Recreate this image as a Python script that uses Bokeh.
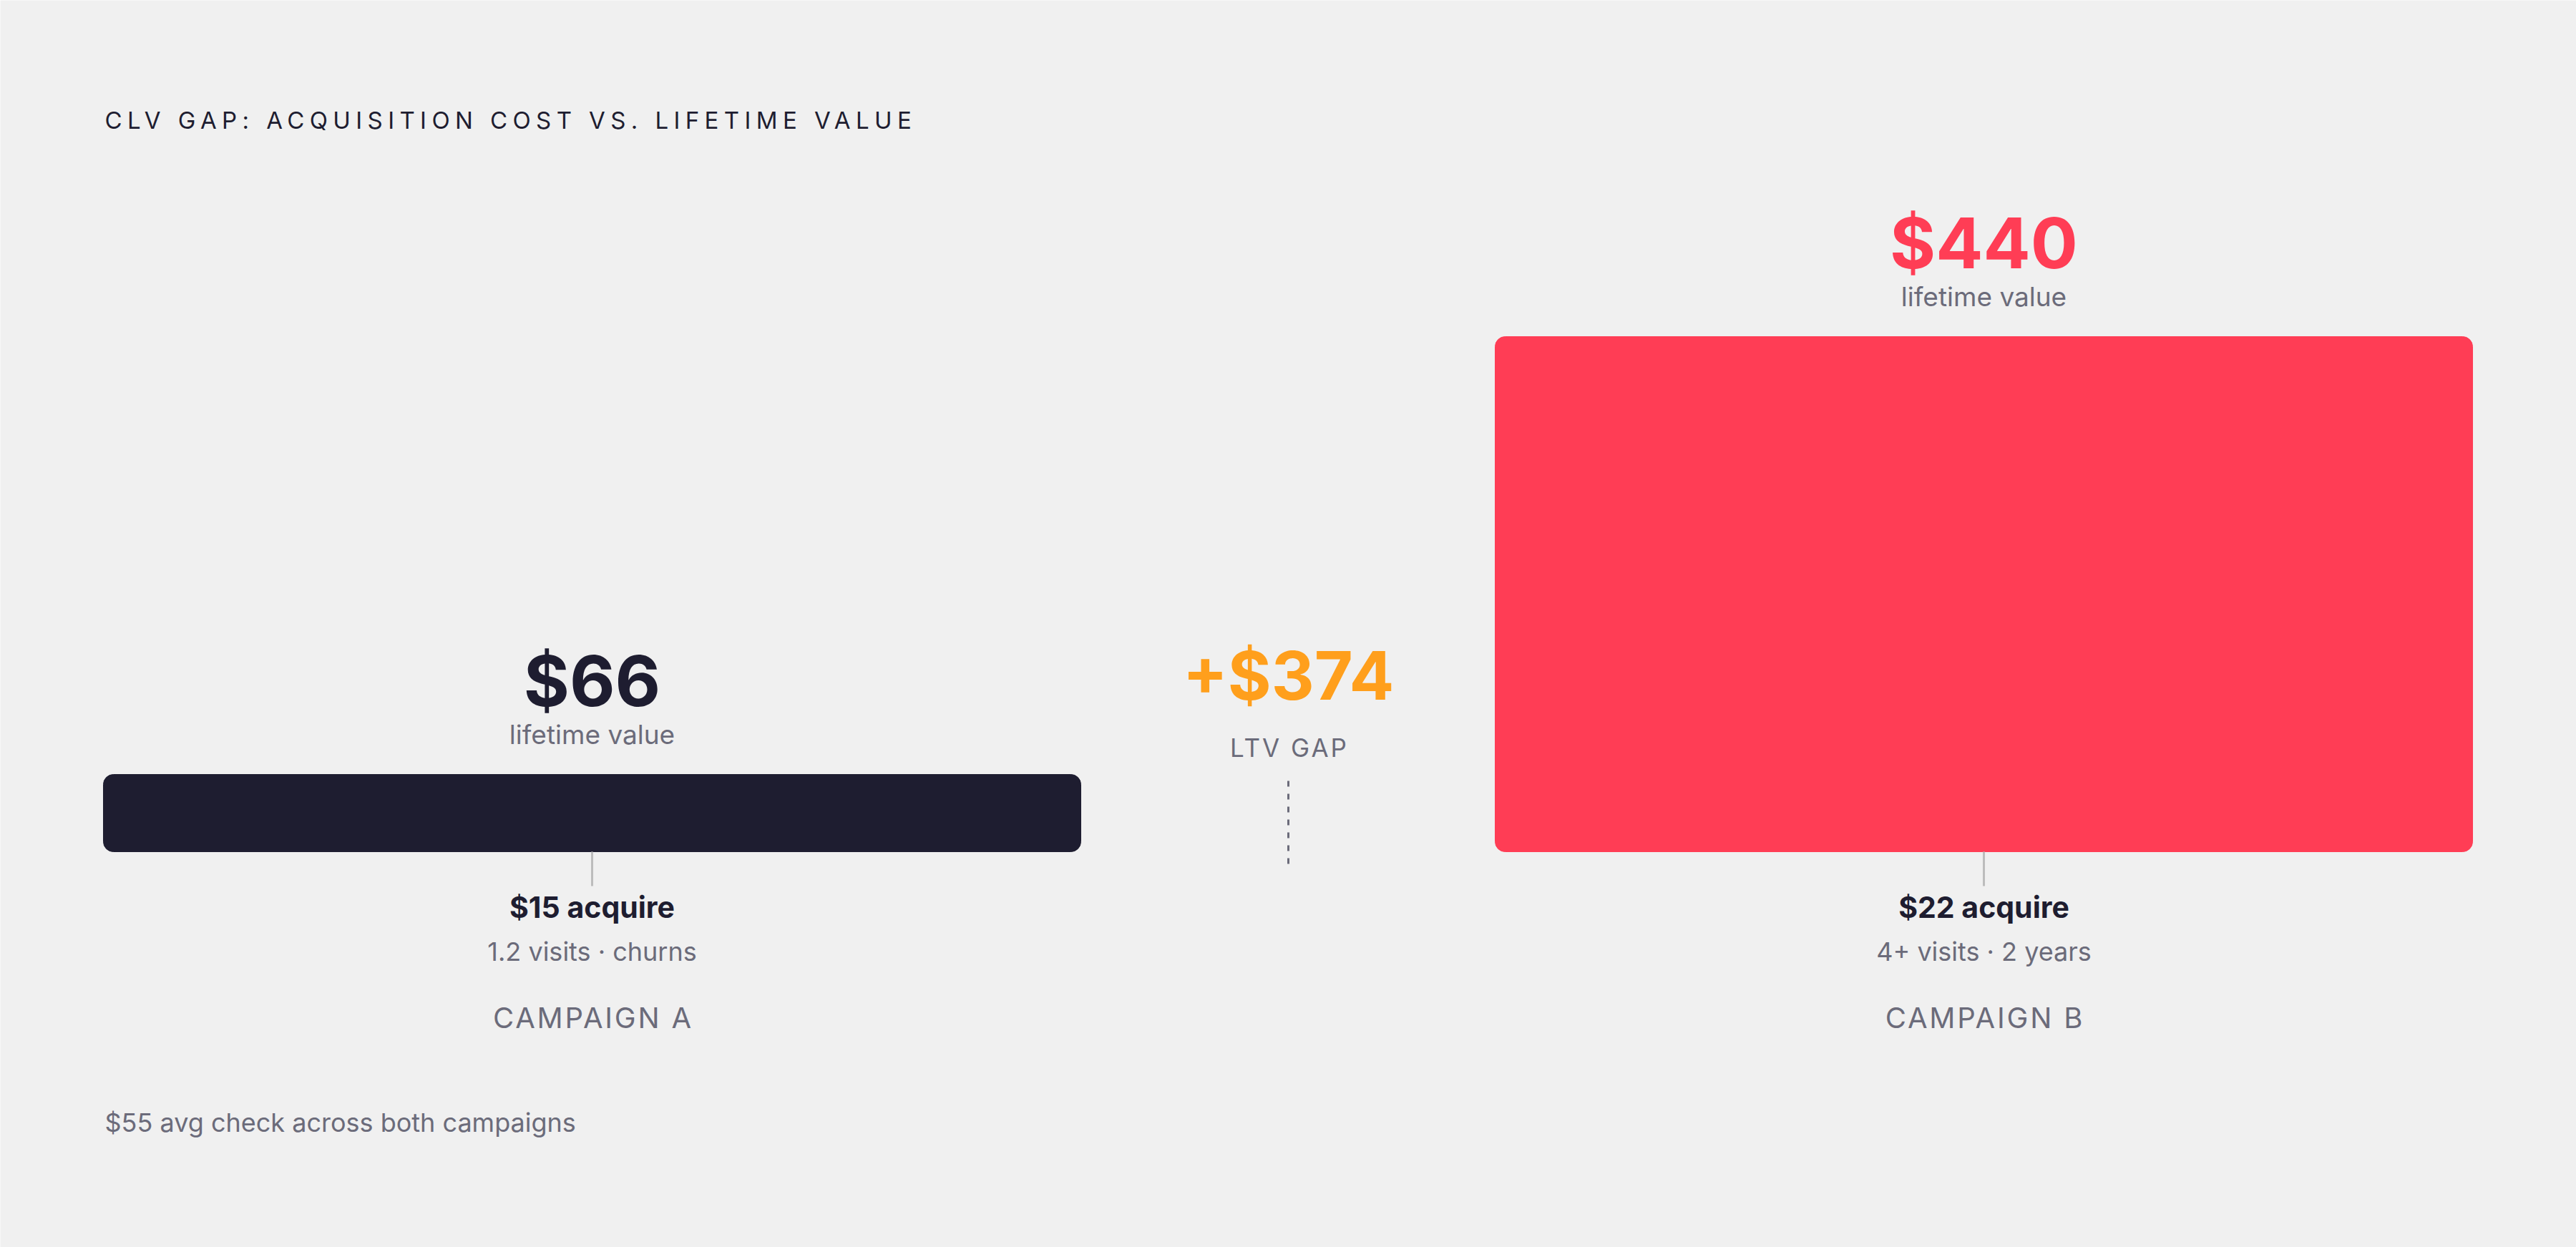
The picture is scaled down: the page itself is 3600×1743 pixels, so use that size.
from bokeh.plotting import figure
from bokeh.models import Range1d, Label, ColumnDataSource, CustomJS
from bokeh.document import Document
from bokeh.core.properties import value
from bokeh.embed import file_html
from bokeh.resources import INLINE

# data
campaigns = ["CAMPAIGN A", "CAMPAIGN B"]
ltv = [66, 440]
acquire_cost = [15, 22]
details = ["1.2 visits · churns", "4+ visits · 2 years"]
avg_check = 55

title_text = "CLV GAP: ACQUISITION COST VS. LIFETIME VALUE"
gap = ltv[1] - ltv[0]

# layout
W, H = 3600, 1743
PX_PER_USD = 720 / 440      # bar height scale
BASE_PX = 553               # baseline, px above bottom edge
bar_x = [827, 2772]
bar_width = 1366
gap_x = 1800

NAVY = "#1e1d30"
RED = "#ff3d55"
ORANGE = "#ff9f1c"
GREY = "#6b6b7a"
BG = "#f0f0f0"
FONT = "Inter"


def px(d):
    return d / PX_PER_USD


p = figure(width=W, height=H, output_backend="svg", toolbar_location=None,
           x_range=Range1d(0, W),
           y_range=Range1d(-px(BASE_PX), px(H - BASE_PX)),
           x_axis_location=None, y_axis_location=None, min_border=0)
p.grid.visible = False
p.outline_line_color = None
p.background_fill_color = BG
p.border_fill_color = BG

src = ColumnDataSource(dict(
    x=bar_x,
    ltv=ltv,
    color=[NAVY, RED],
    ltv_label=[f"${v}" for v in ltv],
    acq_label=[f"${v} acquire" for v in acquire_cost],
    details=details,
    name=campaigns,
    zero=[0, 0],
    tick_end=[-px(48)] * 2,
))

# bars
p.vbar(x="x", top="ltv", bottom=0, width=bar_width, color="color",
       border_radius=14, source=src)

# little ticks under the bars
p.segment(x0="x", y0="zero", x1="x", y1="tick_end", line_color="#bcbcbc",
          line_width=3, source=src)

# value labels above bars
p.text(x="x", y="ltv", text="ltv_label", text_color="color", source=src,
       text_font=value(FONT), text_font_size="98px", text_font_style="bold",
       text_align="center", text_baseline="middle", y_offset=-131)
p.text(x="x", y="ltv", text=value("lifetime value"), text_color=GREY, source=src,
       text_font=value(FONT), text_font_size="37px",
       text_align="center", text_baseline="middle", y_offset=-56)

# labels below bars
p.text(x="x", y="zero", text="acq_label", text_color=NAVY, source=src,
       text_font=value(FONT), text_font_size="41px", text_font_style="bold",
       text_align="center", text_baseline="middle", y_offset=77)
p.text(x="x", y="zero", text="details", text_color=GREY, source=src,
       text_font=value(FONT), text_font_size="36px",
       text_align="center", text_baseline="middle", y_offset=139)
p.text(x="x", y="zero", text="name", text_color=GREY, source=src,
       text_font=value(FONT), text_font_size="40px",
       text_align="center", text_baseline="middle", y_offset=232)

# gap annotation in the middle
p.text(x=[gap_x], y=[0], text=[f"+${gap}"], text_color=ORANGE,
       text_font=value(FONT), text_font_size="93px", text_font_style="bold",
       text_align="center", text_baseline="middle", y_offset=-247)
p.text(x=[gap_x], y=[0], text=["LTV GAP"], text_color=GREY,
       text_font=value(FONT), text_font_size="35px",
       text_align="center", text_baseline="middle", y_offset=-146)
p.segment(x0=[gap_x], y0=[px(99)], x1=[gap_x], y1=[-px(17)],
          line_color=GREY, line_width=3, line_dash="8 10")

# title and footnote
p.add_layout(Label(x=146, y=1576, x_units="screen", y_units="screen",
                   text=title_text, text_font=FONT, text_font_size="33px",
                   text_color=NAVY, text_baseline="middle"))
p.add_layout(Label(x=146, y=175, x_units="screen", y_units="screen",
                   text=f"${avg_check} avg check across both campaigns",
                   text_font=FONT, text_font_size="36px",
                   text_color=GREY, text_baseline="middle"))

# letter spacing for the caps labels (svg text picked out by font size)
spacing_js = """
const spacing = {"33px": 7.4, "35px": 3.0, "40px": 2.8};
function fix(root) {
  for (const t of root.querySelectorAll("text")) {
    if (t.getAttribute("data-ls")) continue;
    const fs = getComputedStyle(t).fontSize;
    const ls = spacing[fs];
    if (ls === undefined) continue;
    t.setAttribute("letter-spacing", ls + "px");
    t.style.letterSpacing = ls + "px";
    const anchor = t.getAttribute("text-anchor") || "start";
    if (fs !== "33px" && anchor !== "middle") {
      const n = (t.textContent || "").length;
      const x = parseFloat(t.getAttribute("x") || "0");
      t.setAttribute("x", x - (n - 1) * ls / 2);
    }
    t.setAttribute("data-ls", "1");
  }
  for (const el of root.querySelectorAll("*")) {
    if (el.shadowRoot) fix(el.shadowRoot);
  }
}
fix(document);
let k = 0;
const id = setInterval(() => { fix(document); if (++k > 80) clearInterval(id); }, 50);
"""

doc = Document()
doc.add_root(p)
doc.js_on_event("document_ready", CustomJS(code=spacing_js))

open("out.html", "w").write(file_html(p, INLINE))
